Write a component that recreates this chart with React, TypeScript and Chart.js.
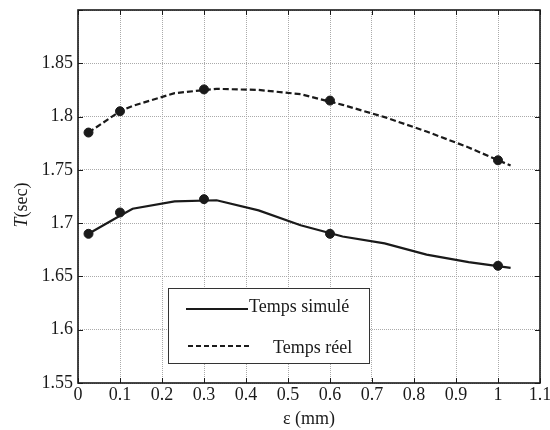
import React, { useEffect, useRef } from "react";
import { Chart, registerables } from "chart.js";
Chart.register(...registerables);

const xTicks = [0, 0.1, 0.2, 0.3, 0.4, 0.5, 0.6, 0.7, 0.8, 0.9, 1, 1.1];
const yTicks = [1.55, 1.6, 1.65, 1.7, 1.75, 1.8, 1.85, 1.9];
const yTickLabels = ["1.55", "1.6", "1.65", "1.7", "1.75", "1.8", "1.85"];

const simLineX = [0.025, 0.1, 0.13, 0.23, 0.33, 0.43, 0.53, 0.63, 0.73, 0.83, 0.93, 1.03];
const simLineY = [1.69, 1.707, 1.7135, 1.7205, 1.7215, 1.712, 1.698, 1.6875, 1.681, 1.6705, 1.6635, 1.658];
const reelLineX = [0.025, 0.1, 0.13, 0.23, 0.33, 0.43, 0.53, 0.63, 0.73, 0.83, 0.93, 1.03];
const reelLineY = [1.785, 1.805, 1.81, 1.822, 1.826, 1.825, 1.821, 1.811, 1.7995, 1.786, 1.771, 1.754];

const markX = [0.025, 0.1, 0.3, 0.6, 1.0];
const simMarkY = [1.69, 1.71, 1.7225, 1.69, 1.66];
const reelMarkY = [1.785, 1.805, 1.8255, 1.815, 1.759];

const legendLabels = ["Temps simulé", "Temps réel"];
const xTitle = "ε (mm)";
const yTitleItalic = "T";
const yTitleRest = "(sec)";

const INK = "#1a1a1a";
const FONT = "'Liberation Serif', 'Times New Roman', serif";

const pts = (xs: number[], ys: number[]) => xs.map((x, i) => ({ x, y: ys[i] }));

const framePlugin = {
  id: "frame",
  afterDraw(chart: any) {
    const { ctx, chartArea: a, scales } = chart;
    ctx.save();
    ctx.strokeStyle = INK;
    ctx.lineWidth = 1;
    const tl = 5;
    scales.x.ticks.forEach((t: any) => {
      const px = Math.round(scales.x.getPixelForValue(t.value)) + 0.5;
      ctx.beginPath();
      ctx.moveTo(px, a.bottom);
      ctx.lineTo(px, a.bottom - tl);
      ctx.moveTo(px, a.top);
      ctx.lineTo(px, a.top + tl);
      ctx.stroke();
    });
    scales.y.ticks.forEach((t: any) => {
      const py = Math.round(scales.y.getPixelForValue(t.value)) + 0.5;
      ctx.beginPath();
      ctx.moveTo(a.left, py);
      ctx.lineTo(a.left + tl, py);
      ctx.moveTo(a.right, py);
      ctx.lineTo(a.right - tl, py);
      ctx.stroke();
    });
    ctx.lineWidth = 1.6;
    ctx.strokeRect(a.left, a.top, a.right - a.left, a.bottom - a.top);

    // legend
    const bx = a.left + 90;
    const by = a.bottom - 95;
    const bw = 201;
    const bh = 75;
    ctx.fillStyle = "#ffffff";
    ctx.fillRect(bx, by, bw, bh);
    ctx.lineWidth = 1;
    ctx.strokeStyle = "#333";
    ctx.strokeRect(bx + 0.5, by + 0.5, bw, bh);
    ctx.strokeStyle = INK;
    ctx.lineWidth = 2;
    ctx.beginPath();
    ctx.moveTo(bx + 18, by + 21);
    ctx.lineTo(bx + 80, by + 21);
    ctx.stroke();
    ctx.setLineDash([5, 3]);
    ctx.beginPath();
    ctx.moveTo(bx + 20, by + 58);
    ctx.lineTo(bx + 83, by + 58);
    ctx.stroke();
    ctx.setLineDash([]);
    ctx.fillStyle = INK;
    ctx.font = `18px ${FONT}`;
    ctx.textBaseline = "middle";
    ctx.textAlign = "left";
    ctx.fillText(legendLabels[0], bx + 81, by + 19);
    ctx.fillText(legendLabels[1], bx + 105, by + 60);

    // y title
    ctx.save();
    ctx.translate(22, 205);
    ctx.rotate(-Math.PI / 2);
    ctx.textBaseline = "middle";
    ctx.textAlign = "left";
    ctx.font = `italic 18px ${FONT}`;
    const w1 = ctx.measureText(yTitleItalic).width;
    ctx.font = `18px ${FONT}`;
    const w2 = ctx.measureText(yTitleRest).width;
    const start = -(w1 + w2) / 2;
    ctx.font = `italic 18px ${FONT}`;
    ctx.fillText(yTitleItalic, start, 0);
    ctx.font = `18px ${FONT}`;
    ctx.fillText(yTitleRest, start + w1, 0);
    ctx.restore();

    ctx.restore();
  },
};

export default function App() {
  const ref = useRef<HTMLCanvasElement | null>(null);
  useEffect(() => {
    document.body.style.margin = "0";
    const c = ref.current!;
    const chart = new Chart(c, {
      type: "scatter",
      data: {
        datasets: [
          {
            data: pts(simLineX, simLineY),
            showLine: true,
            borderColor: INK,
            borderWidth: 2.2,
            pointRadius: 0,
            tension: 0,
          },
          {
            data: pts(reelLineX, reelLineY),
            showLine: true,
            borderColor: INK,
            borderWidth: 2.2,
            borderDash: [6, 3],
            pointRadius: 0,
            tension: 0,
          },
          {
            data: pts(markX, simMarkY),
            showLine: false,
            pointRadius: 4.5,
            pointBackgroundColor: INK,
            pointBorderColor: INK,
          },
          {
            data: pts(markX, reelMarkY),
            showLine: false,
            pointRadius: 4.5,
            pointBackgroundColor: INK,
            pointBorderColor: INK,
          },
        ],
      },
      options: {
        animation: false,
        responsive: false,
        layout: { padding: { left: 0, top: 10, right: 10, bottom: 0 } },
        plugins: { legend: { display: false }, tooltip: { enabled: false } },
        scales: {
          x: {
            type: "linear",
            min: 0,
            max: 1.1,
            afterBuildTicks: (s: any) => {
              s.ticks = xTicks.map((v) => ({ value: v }));
            },
            afterFit: (s: any) => {
              s.height = 47;
              s.paddingLeft = 0;
              s.paddingRight = 0;
            },
            ticks: {
              color: INK,
              font: { family: FONT, size: 18 },
              padding: 1,
              maxRotation: 0,
              autoSkip: false,
              callback: (v: any) => String(Math.round(Number(v) * 10) / 10),
            },
            grid: { color: "#aaa", lineWidth: 1, drawTicks: false },
            border: { display: false, dash: [1, 1] },
            title: {
              display: true,
              text: xTitle,
              color: INK,
              font: { family: FONT, size: 18 },
              padding: { top: 0, bottom: 0 },
            },
          },
          y: {
            type: "linear",
            min: 1.55,
            max: 1.9,
            afterBuildTicks: (s: any) => {
              s.ticks = yTicks.map((v) => ({ value: v }));
            },
            afterFit: (s: any) => {
              s.width = 78;
              s.paddingTop = 0;
              s.paddingBottom = 0;
            },
            ticks: {
              color: INK,
              font: { family: FONT, size: 18 },
              padding: 5,
              autoSkip: false,
              callback: (_v: any, i: number) => (i < yTickLabels.length ? yTickLabels[i] : ""),
            },
            grid: { color: "#aaa", lineWidth: 1, drawTicks: false },
            border: { display: false, dash: [1, 1] },
          },
        },
      },
      plugins: [framePlugin],
    } as any);
    return () => chart.destroy();
  }, []);
  return (
    <div style={{ width: 550, height: 430, background: "#fff" }}>
      <canvas ref={ref} width={550} height={430} style={{ display: "block" }} />
    </div>
  );
}
